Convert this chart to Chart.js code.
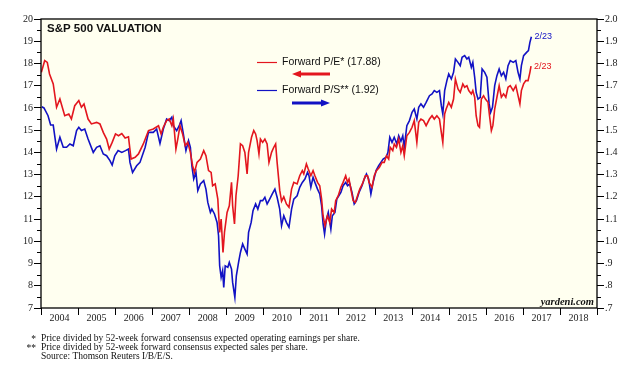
<!DOCTYPE html>
<html>
<head>
<meta charset="utf-8">
<script src="https://cdn.jsdelivr.net/npm/chart.js@4.4.1/dist/chart.umd.min.js"></script>
<style>
html, body { margin: 0; padding: 0; background: #fff; }
#wrap { position: relative; width: 633px; height: 371px; }
</style>
</head>
<body>
<div id="wrap"><canvas id="valuationChart" width="633" height="371"></canvas></div>
<script>
// Forward P/E (left axis), weekly-ish readings
const peDates = [2004.01,2004.10,2004.17,2004.23,2004.33,2004.42,2004.51,2004.64,2004.75,2004.82,2004.91,2005.02,2005.09,2005.16,2005.27,2005.36,2005.50,2005.59,2005.68,2005.77,2005.84,2005.92,2006.01,2006.09,2006.18,2006.27,2006.36,2006.43,2006.54,2006.63,2006.76,2006.90,2007.03,2007.17,2007.24,2007.30,2007.39,2007.46,2007.53,2007.57,2007.64,2007.69,2007.75,2007.82,2007.89,2007.96,2008.03,2008.09,2008.14,2008.21,2008.30,2008.39,2008.45,2008.52,2008.59,2008.63,2008.70,2008.77,2008.82,2008.86,2008.91,2008.95,2009.02,2009.08,2009.14,2009.17,2009.22,2009.26,2009.32,2009.38,2009.44,2009.50,2009.56,2009.60,2009.68,2009.74,2009.79,2009.83,2009.88,2009.92,2009.98,2010.04,2010.10,2010.15,2010.22,2010.28,2010.33,2010.37,2010.44,2010.49,2010.55,2010.62,2010.69,2010.76,2010.82,2010.91,2010.98,2011.05,2011.09,2011.16,2011.21,2011.28,2011.34,2011.39,2011.46,2011.52,2011.57,2011.61,2011.66,2011.73,2011.79,2011.84,2011.91,2011.95,2012.02,2012.09,2012.15,2012.22,2012.27,2012.31,2012.36,2012.42,2012.48,2012.54,2012.60,2012.67,2012.75,2012.81,2012.85,2012.93,2012.99,2013.05,2013.13,2013.20,2013.26,2013.32,2013.38,2013.42,2013.49,2013.53,2013.59,2013.65,2013.71,2013.76,2013.80,2013.87,2013.94,2014.01,2014.07,2014.14,2014.19,2014.25,2014.32,2014.39,2014.48,2014.55,2014.61,2014.68,2014.75,2014.80,2014.84,2014.89,2014.93,2015.00,2015.07,2015.13,2015.18,2015.25,2015.31,2015.38,2015.43,2015.49,2015.54,2015.61,2015.65,2015.70,2015.74,2015.79,2015.83,2015.88,2015.94,2015.99,2016.06,2016.10,2016.15,2016.19,2016.24,2016.30,2016.36,2016.42,2016.48,2016.54,2016.60,2016.66,2016.74,2016.81,2016.87,2016.92,2016.96,2017.02,2017.08,2017.14,2017.19,2017.22];
const peValues = [17.6,18.13,18.05,17.53,17.08,16.03,16.4,15.65,15.73,15.5,16.1,16.33,16.03,16.18,15.5,15.28,15.35,15.28,14.9,14.6,14.15,14.45,14.83,14.75,14.85,14.65,14.7,13.7,13.78,13.93,14.38,14.98,15.05,15.2,14.83,15.13,15.43,15.5,15.2,15.5,14.15,14.6,15.2,14.83,14.3,14.45,14.0,13.4,13.1,13.55,13.7,14.08,13.85,13.18,13.1,12.5,12.58,11.9,10.4,11.0,9.5,10.4,11.3,11.6,12.65,11.6,10.78,12.05,12.95,14.38,14.3,14.0,13.03,14.0,14.68,14.98,14.83,14.53,13.93,14.6,14.45,14.6,14.38,13.55,14.0,14.23,14.38,13.55,12.3,11.8,12.0,11.68,11.53,12.35,12.65,12.58,12.95,13.18,13.03,13.48,13.25,12.95,13.18,12.95,12.65,12.5,11.9,11.15,10.7,11.15,10.85,11.45,11.3,11.83,12.05,12.43,12.65,12.95,12.65,12.8,12.35,11.83,11.75,12.05,12.35,12.58,12.95,12.95,12.65,12.43,12.95,13.18,13.33,13.55,13.55,13.85,13.7,14.23,14.08,14.38,14.23,14.6,14.0,14.3,13.85,14.75,14.9,15.13,15.43,14.45,15.35,15.5,15.43,15.2,15.5,15.65,15.5,15.65,15.5,14.9,14.45,15.73,15.95,16.25,16.03,16.4,17.3,16.85,16.7,17.08,16.93,17.0,16.78,16.63,16.78,16.48,15.65,15.2,15.13,16.4,16.55,16.4,16.25,15.65,14.98,15.2,15.95,16.48,17.0,16.48,16.63,16.48,16.93,17.0,16.78,17.0,16.55,16.18,16.78,17.08,17.23,17.23,17.6,17.88];

// Forward P/S (right axis)
const psDates = [2004.02,2004.08,2004.19,2004.26,2004.33,2004.42,2004.51,2004.60,2004.69,2004.78,2004.87,2004.96,2005.02,2005.09,2005.18,2005.27,2005.41,2005.50,2005.59,2005.68,2005.77,2005.86,2005.92,2005.99,2006.08,2006.18,2006.28,2006.36,2006.40,2006.47,2006.58,2006.67,2006.81,2006.90,2007.03,2007.12,2007.21,2007.30,2007.39,2007.46,2007.53,2007.57,2007.66,2007.73,2007.78,2007.84,2007.91,2007.98,2008.03,2008.07,2008.12,2008.18,2008.23,2008.30,2008.39,2008.45,2008.50,2008.57,2008.61,2008.68,2008.75,2008.79,2008.82,2008.86,2008.90,2008.93,2008.97,2009.04,2009.08,2009.14,2009.17,2009.23,2009.27,2009.33,2009.38,2009.44,2009.50,2009.56,2009.60,2009.67,2009.72,2009.79,2009.85,2009.92,2009.98,2010.04,2010.10,2010.17,2010.24,2010.31,2010.37,2010.44,2010.49,2010.55,2010.62,2010.69,2010.76,2010.82,2010.91,2010.98,2011.05,2011.12,2011.19,2011.23,2011.28,2011.34,2011.39,2011.46,2011.52,2011.57,2011.61,2011.65,2011.70,2011.75,2011.82,2011.86,2011.93,2011.98,2012.09,2012.15,2012.22,2012.27,2012.33,2012.39,2012.45,2012.51,2012.58,2012.66,2012.72,2012.78,2012.84,2012.90,2012.96,2013.04,2013.11,2013.17,2013.23,2013.31,2013.36,2013.41,2013.47,2013.53,2013.60,2013.65,2013.71,2013.76,2013.80,2013.87,2013.94,2014.01,2014.07,2014.14,2014.19,2014.25,2014.32,2014.39,2014.48,2014.55,2014.61,2014.68,2014.75,2014.80,2014.84,2014.89,2014.95,2015.00,2015.07,2015.13,2015.18,2015.25,2015.31,2015.36,2015.43,2015.49,2015.54,2015.61,2015.65,2015.70,2015.74,2015.79,2015.85,2015.90,2015.97,2016.03,2016.09,2016.13,2016.18,2016.24,2016.30,2016.36,2016.42,2016.48,2016.54,2016.60,2016.66,2016.74,2016.81,2016.87,2016.92,2016.96,2017.02,2017.10,2017.15,2017.19,2017.23];
const psValues = [1.605,1.600,1.565,1.523,1.523,1.415,1.468,1.423,1.423,1.438,1.430,1.498,1.513,1.498,1.505,1.460,1.400,1.423,1.430,1.393,1.385,1.363,1.343,1.385,1.408,1.400,1.408,1.415,1.355,1.310,1.340,1.355,1.423,1.490,1.490,1.505,1.440,1.505,1.550,1.543,1.558,1.520,1.498,1.520,1.543,1.483,1.408,1.453,1.423,1.340,1.280,1.310,1.228,1.258,1.273,1.235,1.175,1.130,1.145,1.123,1.085,1.025,0.890,0.838,0.868,0.793,0.890,0.883,0.905,0.875,0.815,0.748,0.845,0.905,0.950,0.988,0.965,0.943,1.040,1.085,1.138,1.168,1.145,1.183,1.183,1.198,1.168,1.190,1.213,1.235,1.198,1.145,1.070,1.115,1.085,1.063,1.145,1.190,1.205,1.243,1.265,1.280,1.310,1.295,1.243,1.288,1.265,1.235,1.213,1.160,1.078,1.033,1.100,1.130,1.055,1.115,1.130,1.190,1.220,1.250,1.265,1.250,1.258,1.220,1.168,1.183,1.220,1.250,1.280,1.303,1.280,1.213,1.265,1.318,1.340,1.355,1.370,1.378,1.400,1.468,1.445,1.468,1.438,1.475,1.450,1.475,1.423,1.520,1.543,1.580,1.595,1.550,1.603,1.618,1.603,1.625,1.655,1.663,1.678,1.670,1.678,1.610,1.573,1.678,1.723,1.753,1.730,1.760,1.820,1.805,1.790,1.828,1.835,1.820,1.828,1.783,1.805,1.738,1.670,1.640,1.648,1.775,1.760,1.738,1.618,1.580,1.603,1.700,1.745,1.775,1.745,1.760,1.730,1.790,1.813,1.805,1.813,1.760,1.730,1.790,1.835,1.850,1.858,1.895,1.920];

const yearLabels = [2004,2005,2006,2007,2008,2009,2010,2011,2012,2013,2014,2015,2016,2017,2018];
const leftTicks = [7,8,9,10,11,12,13,14,15,16,17,18,19,20];
const rightTicks = [0.7,0.8,0.9,1.0,1.1,1.2,1.3,1.4,1.5,1.6,1.7,1.8,1.9,2.0];
const peLabel = 'Forward P/E* (17.88)';
const psLabel = 'Forward P/S** (1.92)';
const lastDate = '2/23';
const footnotes = [
    ['*', 'Price divided by 52-week forward consensus expected operating earnings per share.'],
    ['**', 'Price divided by 52-week forward consensus expected sales per share.'],
    ['', 'Source: Thomson Reuters I/B/E/S.']
];

const RED = '#e3161e';
const BLUE = '#1212c4';
const SERIF = '"Liberation Serif", "DejaVu Serif", serif';
const SANS = '"Liberation Sans", Arial, sans-serif';

function arrow(ctx, x1, x2, y, color) {
    // shaft from x1 to x2, head at x2
    const dir = Math.sign(x2 - x1);
    ctx.strokeStyle = color;
    ctx.fillStyle = color;
    ctx.lineWidth = 3;
    ctx.beginPath();
    ctx.moveTo(x1, y);
    ctx.lineTo(x2 - dir * 7, y);
    ctx.stroke();
    ctx.beginPath();
    ctx.moveTo(x2, y);
    ctx.lineTo(x2 - dir * 9, y - 3.5);
    ctx.lineTo(x2 - dir * 9, y + 3.5);
    ctx.closePath();
    ctx.fill();
}

const decor = {
    id: 'decor',
    beforeDraw(chart) {
        const { ctx, chartArea: a } = chart;
        ctx.save();
        ctx.fillStyle = '#fffff0';
        ctx.fillRect(a.left, a.top, a.right - a.left, a.bottom - a.top);
        ctx.restore();
    },
    afterDraw(chart) {
        const { ctx, chartArea: a, scales } = chart;
        const x = scales.x, y = scales.y, y2 = scales.y2;
        ctx.save();

        // frame
        ctx.strokeStyle = '#000';
        ctx.lineWidth = 1.3;
        ctx.strokeRect(a.left, a.top, a.right - a.left, a.bottom - a.top);

        // minor ticks
        ctx.lineWidth = 1;
        ctx.beginPath();
        for (let v = 7.5; v < 20; v += 1) {
            const py = Math.round(y.getPixelForValue(v)) + 0.5;
            ctx.moveTo(a.left - 4, py); ctx.lineTo(a.left, py);
        }
        for (let v = 0.75; v < 2.0; v += 0.1) {
            const py = Math.round(y2.getPixelForValue(v)) + 0.5;
            ctx.moveTo(a.right, py); ctx.lineTo(a.right + 4, py);
        }
        // year boundaries on the x axis
        for (let yr = 2004; yr <= 2019; yr++) {
            const px = Math.round(x.getPixelForValue(yr)) + 0.5;
            ctx.moveTo(px, a.bottom); ctx.lineTo(px, a.bottom + 7);
        }
        ctx.stroke();

        // title
        ctx.fillStyle = '#111';
        ctx.font = 'bold 11.5px ' + SANS;
        ctx.textBaseline = 'alphabetic';
        ctx.textAlign = 'left';
        ctx.fillText('S&P 500 VALUATION', 47, 32);

        // legend
        ctx.lineWidth = 1.2;
        ctx.strokeStyle = RED;
        ctx.beginPath(); ctx.moveTo(257, 62.5); ctx.lineTo(277, 62.5); ctx.stroke();
        ctx.strokeStyle = BLUE;
        ctx.beginPath(); ctx.moveTo(257, 90.5); ctx.lineTo(277, 90.5); ctx.stroke();
        ctx.fillStyle = '#111';
        ctx.font = '10.5px ' + SANS;
        ctx.textBaseline = 'middle';
        ctx.fillText(peLabel, 282, 62);
        ctx.fillText(psLabel, 282, 90);
        arrow(ctx, 330, 292, 74, RED);
        arrow(ctx, 292, 330, 103, BLUE);

        // end labels
        const peLast = peValues.length - 1, psLast = psValues.length - 1;
        ctx.font = '9px ' + SANS;
        ctx.fillStyle = BLUE;
        ctx.fillText(lastDate, x.getPixelForValue(psDates[psLast]) + 3, y2.getPixelForValue(psValues[psLast]));
        ctx.fillStyle = RED;
        ctx.fillText(lastDate, x.getPixelForValue(peDates[peLast]) + 3, y.getPixelForValue(peValues[peLast]));

        // source
        ctx.fillStyle = '#111';
        ctx.font = 'italic bold 10.5px ' + SERIF;
        ctx.textAlign = 'right';
        ctx.textBaseline = 'alphabetic';
        ctx.fillText('yardeni.com', a.right - 3, a.bottom - 3);

        // footnotes
        ctx.font = '9.5px ' + SERIF;
        ctx.textBaseline = 'middle';
        footnotes.forEach((f, i) => {
            const py = 338 + i * 9;
            ctx.textAlign = 'right';
            ctx.fillText(f[0], 36, py + 1);
            ctx.textAlign = 'left';
            ctx.fillText(f[1], 41, py);
        });
        ctx.restore();
    }
};

const ctx = document.getElementById('valuationChart').getContext('2d');

new Chart(ctx, {
    type: 'line',
    data: {
        datasets: [{
            label: 'Forward P/E',
            data: peDates.map((d, i) => ({ x: d, y: peValues[i] })),
            borderColor: RED,
            borderWidth: 1.6,
            pointRadius: 0,
            tension: 0,
            yAxisID: 'y'
        }, {
            label: 'Forward P/S',
            data: psDates.map((d, i) => ({ x: d, y: psValues[i] })),
            borderColor: BLUE,
            borderWidth: 1.6,
            pointRadius: 0,
            tension: 0,
            yAxisID: 'y2'
        }]
    },
    options: {
        responsive: false,
        animation: false,
        layout: { padding: { top: 19, left: 0, right: 0, bottom: 0 } },
        plugins: {
            legend: { display: false },
            tooltip: { enabled: false }
        },
        scales: {
            x: {
                type: 'linear',
                min: 2004,
                max: 2019,
                afterBuildTicks: s => { s.ticks = yearLabels.map(v => ({ value: v + 0.5 })); },
                afterFit: s => { s.height = 63; },
                grid: { display: false, drawTicks: false },
                border: { display: false },
                ticks: {
                    padding: 4,
                    maxRotation: 0,
                    autoSkip: false,
                    color: '#222',
                    font: { family: SERIF, size: 10 },
                    callback: v => String(Math.floor(v))
                }
            },
            y: {
                position: 'left',
                min: 7,
                max: 20,
                afterBuildTicks: s => { s.ticks = leftTicks.map(v => ({ value: v })); },
                afterFit: s => { s.width = 41; },
                grid: { drawOnChartArea: false, tickLength: 7, color: '#000', tickWidth: 1 },
                border: { display: false },
                ticks: {
                    padding: 1,
                    color: '#222',
                    font: { family: SERIF, size: 10 },
                    callback: v => String(v)
                }
            },
            y2: {
                position: 'right',
                min: 0.7,
                max: 2.0,
                afterBuildTicks: s => { s.ticks = rightTicks.map(v => ({ value: v })); },
                afterFit: s => { s.width = 36; },
                grid: { drawOnChartArea: false, tickLength: 7, color: '#000', tickWidth: 1 },
                border: { display: false },
                ticks: {
                    padding: 1,
                    color: '#222',
                    font: { family: SERIF, size: 10 },
                    callback: v => (v >= 1 ? v.toFixed(1) : v.toFixed(1).slice(1))
                }
            }
        }
    },
    plugins: [decor]
});
</script>
</body>
</html>
